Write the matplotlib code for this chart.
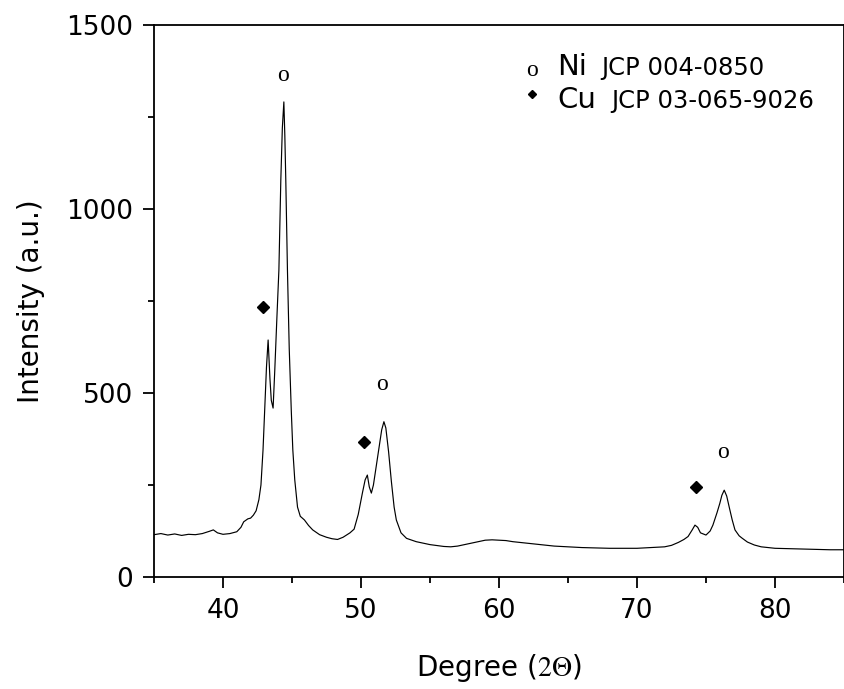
import matplotlib
matplotlib.use("Agg")
import matplotlib.pyplot as plt
from matplotlib.ticker import MultipleLocator

plt.rcParams['font.family'] = ['DejaVu Sans']
plt.rcParams['mathtext.fontset'] = 'stix'

# ---- data ----
two_theta = [35.0, 35.5, 36.0, 36.5, 37.0, 37.5, 38.0, 38.5, 39.0, 39.3, 39.6, 40.0,
             40.5, 41.0, 41.3, 41.5, 41.8, 42.0, 42.2, 42.4, 42.6, 42.75, 42.9, 43.05,
             43.15, 43.27, 43.4, 43.5, 43.63, 43.75, 43.9, 44.05, 44.19, 44.3, 44.41,
             44.48, 44.55, 44.67, 44.8, 44.95, 45.06, 45.2, 45.4, 45.6, 45.9, 46.2,
             46.5, 47.0, 47.5, 47.9, 48.3, 48.7, 49.2, 49.5, 49.8, 50.1, 50.3, 50.46,
             50.6, 50.75, 50.9, 51.1, 51.3, 51.5, 51.66, 51.8, 52.0, 52.2, 52.4, 52.56,
             52.9, 53.3, 54.0, 55.0, 56.0, 56.5, 57.0, 57.5, 58.0, 58.5, 59.0, 59.5,
             60.0, 60.5, 61.0, 62.0, 63.0, 64.0, 65.0, 66.0, 67.0, 68.0, 69.0, 70.0,
             71.0, 72.0, 72.5, 73.0, 73.4, 73.7, 74.0, 74.2, 74.4, 74.6, 75.0, 75.3,
             75.5, 75.8, 76.0, 76.15, 76.32, 76.5, 76.7, 76.9, 77.1, 77.4, 77.6, 78.0,
             78.5, 79.0, 80.0, 81.0, 82.0, 83.0, 84.0, 85.0]
intensity = [115, 118, 114, 117, 113, 116, 115, 118, 124, 128, 120, 116,
             118, 123, 135, 150, 158, 160, 168, 180, 210, 250, 345, 480,
             570, 644, 540, 480, 459, 560, 700, 834, 1079, 1220, 1291,
             1200, 1079, 834, 620, 450, 345, 264, 190, 165, 155, 140,
             128, 115, 108, 104, 102, 108, 120, 130, 170, 228, 264, 277,
             245, 228, 250, 300, 350, 400, 422, 405, 340, 260, 190, 155,
             120, 105, 96, 88, 83, 82, 84, 88, 92, 96, 100, 101,
             100, 99, 96, 92, 88, 84, 82, 80, 79, 78, 78, 78,
             80, 82, 86, 94, 102, 110, 128, 141, 135, 120, 114, 125,
             141, 175, 200, 222, 236, 220, 187, 155, 128, 112, 106, 95,
             87, 82, 78, 77, 76, 75, 74, 74]

ni_mark_x = [44.33, 51.55, 76.24]
ni_mark_y = [1364, 524, 337]
cu_mark_x = [42.9, 50.2, 74.3]
cu_mark_y = [734, 367, 245]

ni_label = "Ni"
ni_card = "JCP 004-0850"
cu_label = "Cu"
cu_card = "JCP 03-065-9026"

W, H = 845, 689
fig = plt.figure(figsize=(W / 100, H / 100), dpi=100)
ax = fig.add_axes([154 / W, 1 - 577 / H, (844 - 154) / W, (577 - 25) / H])

ax.plot(two_theta, intensity, color='black', lw=0.85)

for x, y in zip(ni_mark_x, ni_mark_y):
    ax.text(x, y, "o", family='Liberation Serif', fontsize=17, ha='center', va='center')
ax.plot(cu_mark_x, cu_mark_y, linestyle='none', marker='D', color='black', ms=6.5)

ax.set_xlim(35, 85)
ax.set_ylim(0, 1500)
ax.xaxis.set_major_locator(MultipleLocator(10))
ax.xaxis.set_minor_locator(MultipleLocator(5))
ax.yaxis.set_major_locator(MultipleLocator(500))
ax.yaxis.set_minor_locator(MultipleLocator(250))
ax.tick_params(which='both', direction='out', width=1.3, labelsize=19,
               top=False, right=False)
ax.tick_params(which='major', length=8, pad=7)
ax.tick_params(which='minor', length=4.5)
for s in ax.spines.values():
    s.set_linewidth(1.3)

ax.set_xlabel(r"Degree ($2\Theta$)", fontsize=20, labelpad=20)
ax.set_ylabel("Intensity (a.u.)", fontsize=20, labelpad=15)

# legend (manual)
def fx(px):
    return px / W

def fy(py):
    return 1 - py / H

fig.text(fx(532), fy(71), "o", family='Liberation Serif', fontsize=17, ha='center', va='center')
fig.text(fx(557), fy(75), ni_label, fontsize=21, ha='left', va='baseline')
fig.text(fx(601), fy(75), ni_card, fontsize=17.5, ha='left', va='baseline')
ax.plot([fx(532)], [fy(94)], marker='D', color='black', ms=4.5, transform=fig.transFigure, clip_on=False)
fig.text(fx(557), fy(108), cu_label, fontsize=21, ha='left', va='baseline')
fig.text(fx(611), fy(108), cu_card, fontsize=17.5, ha='left', va='baseline')

fig.savefig("out.png", dpi=100)
